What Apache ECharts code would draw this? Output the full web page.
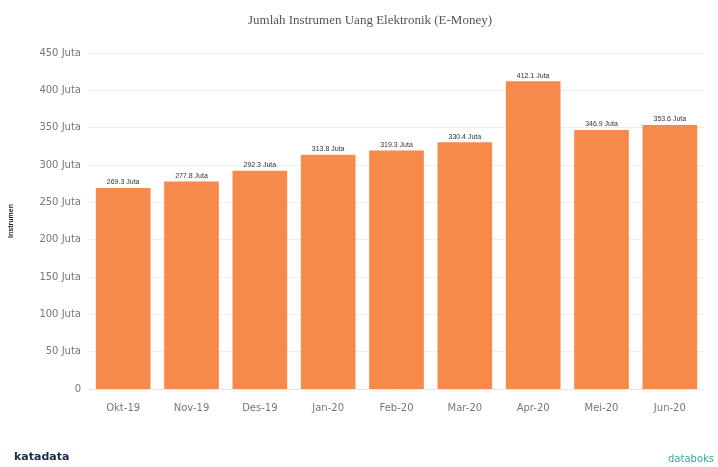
<!DOCTYPE html>
<html>
<head>
<meta charset="utf-8">
<script src="https://cdn.jsdelivr.net/npm/echarts@6/dist/echarts.min.js"></script>
<style>
html, body { margin: 0; padding: 0; background: #fff; }
#chart { width: 718px; height: 467px; }
</style>
</head>
<body>
<div id="chart"></div>
<script>
// data
var months = ['Okt-19', 'Nov-19', 'Des-19', 'Jan-20', 'Feb-20', 'Mar-20', 'Apr-20', 'Mei-20', 'Jun-20'];
var jumlah = [269.3, 277.8, 292.3, 313.8, 319.3, 330.4, 412.1, 346.9, 353.6];

var myChart = echarts.init(document.getElementById('chart'));

var option = {
	backgroundColor: '#fff',
	title: {
		text: 'Jumlah Instrumen Uang Elektronik (E-Money)',
		left: 365,
		textAlign: 'center',
		top: 9,
		textStyle: {
			fontFamily: 'Liberation Serif',
			fontWeight: 'normal',
			fontSize: 13,
			color: '#555'
		}
	},
	grid: {
		left: 88,
		right: 14,
		top: 53,
		bottom: 78
	},
	xAxis: {
		type: 'category',
		data: months,
		axisLine: { lineStyle: { color: '#e6e6e6' } },
		axisTick: { show: false },
		axisLabel: {
			color: '#777',
			fontSize: 10,
			margin: 14,
			fontFamily: 'DejaVu Sans'
		}
	},
	yAxis: {
		type: 'value',
		min: 0,
		max: 450,
		interval: 50,
		name: 'Instrumen',
		nameLocation: 'middle',
		nameGap: 74,
		nameTextStyle: {
			fontSize: 7,
			fontWeight: 'bold',
			color: '#222'
		},
		axisLine: { show: false },
		axisTick: { show: false },
		splitLine: { lineStyle: { color: '#eeeeee' } },
		axisLabel: {
			color: '#777',
			fontSize: 10,
			margin: 8,
			fontFamily: 'DejaVu Sans',
			formatter: function (v) {
				return v === 0 ? '0' : v + ' Juta';
			}
		}
	},
	series: [{
		name: 'Jumlah',
		type: 'bar',
		data: jumlah,
		barWidth: '80%',
		itemStyle: { color: '#F58A4B' },
		label: {
			show: true,
			position: 'top',
			distance: 2,
			fontSize: 7,
			color: '#333',
			formatter: function (p) {
				return p.value.toFixed(1) + ' Juta';
			}
		}
	}],
	graphic: [
		{
			type: 'text',
			left: 14,
			top: 452,
			style: {
				text: 'katadata',
				fontSize: 11,
				fontWeight: 'bold',
				fill: '#1b2a4a',
				fontFamily: 'DejaVu Sans'
			}
		},
		{
			type: 'text',
			right: 4,
			top: 454,
			style: {
				text: 'databoks',
				fontSize: 10,
				fill: '#3aa7a0',
				fontFamily: 'DejaVu Sans'
			}
		}
	]
};

myChart.setOption(option);
</script>
</body>
</html>
